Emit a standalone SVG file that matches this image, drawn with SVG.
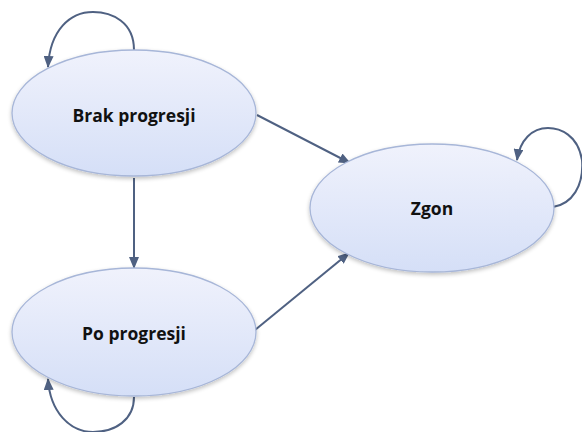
<svg xmlns="http://www.w3.org/2000/svg" width="582" height="432" viewBox="0 0 582 432">
<defs>
<linearGradient id="g" x1="0" y1="0" x2="0" y2="1">
<stop offset="0" stop-color="#f0f2fc"/>
<stop offset="1" stop-color="#d5dff7"/>
</linearGradient>
<filter id="sh" x="-10%" y="-10%" width="120%" height="125%">
<feGaussianBlur in="SourceAlpha" stdDeviation="2"/>
<feOffset dx="0" dy="2" result="b"/>
<feComponentTransfer><feFuncA type="linear" slope="0.25"/></feComponentTransfer>
<feMerge><feMergeNode/><feMergeNode in="SourceGraphic"/></feMerge>
</filter>
<marker id="ah" viewBox="0 0 12 10" refX="11" refY="5" markerWidth="6" markerHeight="5" orient="auto" markerUnits="strokeWidth">
<path d="M0,0 L12,5 L0,10 z" fill="#4f6182"/>
</marker>
</defs>
<style>
.node ellipse{fill:url(#g);stroke:#a7b6d8;stroke-width:1.3;filter:url(#sh)}
.node text{font-family:"Open Sans","Liberation Sans",sans-serif;font-weight:bold;font-size:17.5px;fill:#111;text-anchor:middle}
.edges path{fill:none;stroke:#4f6182;stroke-width:2;marker-end:url(#ah)}
</style>
<g class="edges">
<path d="M257,115 L350,163"/>
<path d="M134,178 L134,268"/>
<path d="M255,330 L349,253"/>
<path d="M134,50 C134,22 112,12 93,12 C70,12 50,30 48,67"/>
<path d="M553,207 C572,204 584,186 582,160 C578,135 560,128 548,128 C532,128 520,140 517,160"/>
<path d="M134,397 C134,420 115,432 93,432 C70,432 50,412 48,379"/>
</g>
<g id="brak" class="node">
<ellipse cx="134" cy="113" rx="122" ry="63"/>
<text x="134" y="122">Brak progresji</text>
</g>
<g id="zgon" class="node">
<ellipse cx="432" cy="208" rx="122" ry="64"/>
<text x="432" y="215">Zgon</text>
</g>
<g id="po" class="node">
<ellipse cx="134" cy="332" rx="122" ry="64"/>
<text x="134" y="340">Po progresji</text>
</g>
</svg>
